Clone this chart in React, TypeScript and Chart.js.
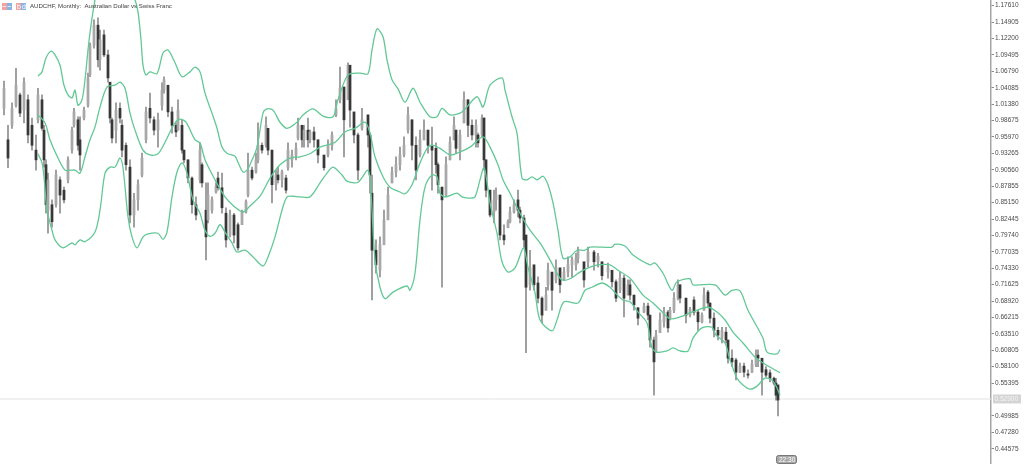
import React, { useEffect, useRef } from "react";
import { Chart, registerables } from "chart.js";

Chart.register(...registerables);

const titleText = "AUDCHF, Monthly:  Australian Dollar vs Swiss Franc";
const timeLabel = "22:30";
const priceLabel = "0.52900";
const currentPrice = 0.5278;
const monthSpan = [0, 495.5];
const priceSpan = [0.4206, 1.1855];

const priceTicks = [
  1.1761, 1.14905, 1.122, 1.09495, 1.0679, 1.04085, 1.0138, 0.98675, 0.9597, 0.93265, 0.9056, 0.87855, 0.8515, 0.82445,
  0.7974, 0.77035, 0.7433, 0.71625, 0.6892, 0.66215, 0.6351, 0.60805, 0.581, 0.55395, 0.49985, 0.4728, 0.44575,
];

const months = [
  2, 4, 6, 8, 10, 12, 14, 16, 18, 19,
  21, 22, 23, 24, 26, 28, 30, 32, 34, 36,
  37, 39, 40, 42, 44, 45, 47, 49, 50, 52,
  54, 55, 56, 58, 60, 61, 63, 65, 67, 69,
  71, 73, 75, 77, 79, 81, 82, 84, 86, 88,
  89, 91, 92, 94, 96, 98, 100, 101, 103, 104,
  106, 108, 109, 111, 113, 115, 117, 119, 121, 123,
  124, 126, 128, 129, 131, 133, 134, 136, 138, 139,
  141, 143, 144, 146, 148, 149, 151, 152, 154, 155,
  157, 159, 162, 164, 166, 168, 170, 172, 174, 175,
  177, 179, 181, 184, 185, 186, 188, 190, 192, 194,
  196, 198, 200, 202, 204, 206, 208, 210, 212, 214,
  216, 218, 219, 221, 223, 225, 227, 228, 230, 232,
  234, 236, 238, 239, 241, 242, 243, 245, 247, 248,
  250, 252, 254, 255, 257, 259, 260, 262, 263, 265,
  267, 269, 271, 273, 274, 276, 278, 280, 282, 284,
  286, 288, 289, 292, 294, 297, 299, 301, 304, 306,
  308, 310, 312, 314, 315, 317, 319, 322, 324, 325,
  327, 328, 330, 332, 334, 335, 337, 339, 340, 343,
  345, 347, 349, 351, 352, 354, 355, 357, 359, 361,
  363, 364, 366, 368, 370, 372, 374, 376, 378, 379,
  381, 383, 385, 387, 388, 389,
];

const highs = [
  1.052, 0.979, 1.016, 1.073, 1.032, 1.057, 1.029, 0.991, 0.963, 1.04,
  1.029, 0.979, 0.922, 0.9, 0.856, 0.905, 0.894, 0.877, 0.927, 0.976,
  1.007, 0.993, 0.993, 1.009, 1.065, 1.115, 1.153, 1.156, 1.136, 1.136,
  1.103, 1.049, 0.991, 1.016, 1.016, 0.988, 0.95, 0.922, 0.867, 0.889,
  0.933, 1.009, 1.032, 0.993, 0.999, 1.049, 1.059, 1.037, 1.009, 0.983,
  1.021, 0.988, 0.938, 0.922, 0.894, 0.861, 0.95, 0.917, 0.884, 0.884,
  0.861, 0.884, 0.902, 0.9, 0.843, 0.839, 0.834, 0.818, 0.839, 0.856,
  0.933, 0.91, 0.933, 0.983, 0.95, 0.993, 0.974, 0.938, 0.905, 0.91,
  0.905, 0.897, 0.95, 0.938, 0.95, 0.991, 0.979, 0.979, 0.991, 0.971,
  0.976, 0.955, 0.927, 0.955, 0.968, 1.021, 1.075, 1.042, 1.082, 1.078,
  0.993, 0.966, 1.007, 0.996, 0.966, 0.897, 0.79, 0.795, 0.839, 0.877,
  0.91, 0.927, 0.943, 0.96, 1.009, 0.988, 0.96, 0.971, 0.988, 0.971,
  0.976, 0.95, 0.917, 0.877, 0.927, 0.96, 0.993, 0.971, 0.971, 1.034,
  1.021, 0.988, 0.988, 0.966, 0.996, 0.991, 0.922, 0.872, 0.872, 0.876,
  0.864, 0.815, 0.823, 0.844, 0.856, 0.872, 0.844, 0.831, 0.798, 0.773,
  0.745, 0.729, 0.696, 0.712, 0.752, 0.729, 0.757, 0.74, 0.745, 0.762,
  0.762, 0.768, 0.778, 0.752, 0.778, 0.773, 0.768, 0.752, 0.752, 0.74,
  0.724, 0.737, 0.732, 0.724, 0.724, 0.699, 0.679, 0.686, 0.686, 0.666,
  0.63, 0.641, 0.67, 0.679, 0.674, 0.679, 0.703, 0.724, 0.716, 0.694,
  0.679, 0.696, 0.674, 0.67, 0.711, 0.707, 0.686, 0.67, 0.646, 0.646,
  0.646, 0.62, 0.609, 0.595, 0.587, 0.587, 0.576, 0.592, 0.609, 0.609,
  0.592, 0.581, 0.576, 0.564, 0.562, 0.543,
];

const lows = [
  0.996, 0.909, 0.974, 1.009, 0.993, 0.983, 0.95, 0.938, 0.905, 0.983,
  0.971, 0.91, 0.834, 0.801, 0.811, 0.844, 0.834, 0.851, 0.884, 0.933,
  0.976, 0.938, 0.905, 0.988, 1.009, 1.059, 1.106, 1.075, 1.07, 1.092,
  1.05, 0.983, 0.95, 0.95, 0.983, 0.927, 0.905, 0.818, 0.811, 0.839,
  0.894, 0.95, 0.983, 0.963, 0.943, 1.004, 1.032, 0.993, 0.966, 0.96,
  0.971, 0.933, 0.917, 0.884, 0.834, 0.823, 0.884, 0.877, 0.757, 0.818,
  0.834, 0.867, 0.872, 0.834, 0.778, 0.795, 0.785, 0.773, 0.815, 0.834,
  0.861, 0.889, 0.9, 0.917, 0.933, 0.943, 0.93, 0.851, 0.872, 0.884,
  0.877, 0.867, 0.905, 0.91, 0.922, 0.955, 0.943, 0.943, 0.943, 0.95,
  0.943, 0.917, 0.905, 0.927, 0.938, 0.993, 1.016, 0.927, 1.021, 0.976,
  0.95, 0.889, 0.971, 0.943, 0.867, 0.691, 0.735, 0.729, 0.785, 0.828,
  0.884, 0.894, 0.905, 0.927, 0.966, 0.922, 0.889, 0.927, 0.955, 0.933,
  0.872, 0.9, 0.867, 0.712, 0.861, 0.922, 0.955, 0.933, 0.922, 0.983,
  0.96, 0.955, 0.943, 0.943, 0.96, 0.905, 0.861, 0.828, 0.818, 0.839,
  0.79, 0.782, 0.811, 0.818, 0.834, 0.828, 0.818, 0.778, 0.604, 0.707,
  0.707, 0.686, 0.653, 0.674, 0.707, 0.674, 0.719, 0.703, 0.724, 0.729,
  0.729, 0.74, 0.752, 0.712, 0.745, 0.74, 0.745, 0.724, 0.727, 0.712,
  0.688, 0.703, 0.663, 0.703, 0.691, 0.674, 0.65, 0.67, 0.658, 0.613,
  0.534, 0.604, 0.637, 0.646, 0.638, 0.658, 0.67, 0.691, 0.686, 0.653,
  0.663, 0.666, 0.641, 0.653, 0.674, 0.679, 0.653, 0.63, 0.625, 0.62,
  0.62, 0.587, 0.581, 0.559, 0.571, 0.564, 0.562, 0.571, 0.581, 0.581,
  0.534, 0.564, 0.556, 0.551, 0.526, 0.5,
];

const opens = [
  1.007, 0.955, 0.979, 1.012, 1.029, 1.004, 1.021, 0.979, 0.938, 0.988,
  1.021, 0.971, 0.914, 0.839, 0.848, 0.848, 0.889, 0.872, 0.889, 0.938,
  0.979, 0.988, 0.955, 0.991, 1.012, 1.062, 1.111, 1.144, 1.087, 1.128,
  1.095, 1.05, 0.988, 0.971, 1.007, 0.979, 0.946, 0.91, 0.831, 0.856,
  0.897, 0.955, 1.007, 0.988, 0.971, 1.012, 1.037, 1.045, 1.001, 0.979,
  0.971, 0.979, 0.938, 0.922, 0.892, 0.848, 0.889, 0.914, 0.839, 0.823,
  0.839, 0.869, 0.892, 0.876, 0.834, 0.798, 0.831, 0.815, 0.815, 0.836,
  0.864, 0.905, 0.902, 0.922, 0.946, 0.946, 0.974, 0.938, 0.881, 0.897,
  0.889, 0.892, 0.909, 0.922, 0.93, 0.958, 0.979, 0.955, 0.971, 0.955,
  0.968, 0.955, 0.93, 0.93, 0.946, 0.996, 1.021, 1.042, 1.021, 1.078,
  1.001, 0.963, 0.974, 0.996, 0.963, 0.867, 0.773, 0.74, 0.782, 0.823,
  0.884, 0.902, 0.914, 0.93, 0.971, 0.988, 0.946, 0.93, 0.955, 0.971,
  0.946, 0.941, 0.914, 0.877, 0.864, 0.922, 0.955, 0.971, 0.938, 0.983,
  1.021, 0.979, 0.963, 0.963, 0.963, 0.991, 0.922, 0.872, 0.836, 0.856,
  0.864, 0.798, 0.81, 0.82, 0.836, 0.856, 0.839, 0.826, 0.798, 0.716,
  0.749, 0.719, 0.694, 0.674, 0.716, 0.737, 0.724, 0.744, 0.724, 0.737,
  0.749, 0.749, 0.76, 0.754, 0.754, 0.77, 0.754, 0.754, 0.737, 0.74,
  0.721, 0.707, 0.727, 0.699, 0.716, 0.699, 0.678, 0.671, 0.681, 0.666,
  0.625, 0.605, 0.637, 0.655, 0.671, 0.661, 0.674, 0.694, 0.716, 0.694,
  0.666, 0.691, 0.671, 0.655, 0.674, 0.704, 0.686, 0.661, 0.641, 0.628,
  0.638, 0.625, 0.595, 0.592, 0.572, 0.582, 0.569, 0.572, 0.585, 0.6,
  0.595, 0.576, 0.571, 0.562, 0.554, 0.551,
];

const closes = [
  1.04, 0.925, 1.007, 1.045, 0.999, 1.05, 0.963, 0.946, 0.922, 1.029,
  0.974, 0.922, 0.848, 0.889, 0.82, 0.897, 0.864, 0.856, 0.922, 0.971,
  1.001, 0.946, 0.93, 1.004, 1.057, 1.111, 1.144, 1.087, 1.12, 1.095,
  1.057, 0.991, 0.958, 1.004, 0.991, 0.938, 0.914, 0.831, 0.856, 0.881,
  0.925, 1.001, 0.991, 0.971, 0.988, 1.037, 1.054, 1.001, 0.979, 0.968,
  1.004, 0.938, 0.922, 0.892, 0.848, 0.831, 0.938, 0.884, 0.795, 0.864,
  0.856, 0.879, 0.876, 0.843, 0.79, 0.831, 0.798, 0.777, 0.836, 0.853,
  0.905, 0.892, 0.922, 0.946, 0.938, 0.979, 0.938, 0.881, 0.897, 0.889,
  0.902, 0.872, 0.938, 0.93, 0.941, 0.979, 0.955, 0.971, 0.955, 0.968,
  0.955, 0.93, 0.909, 0.946, 0.963, 1.007, 1.04, 0.988, 1.078, 1.004,
  0.963, 0.905, 0.988, 0.963, 0.897, 0.773, 0.749, 0.782, 0.823, 0.864,
  0.902, 0.914, 0.93, 0.946, 0.996, 0.946, 0.905, 0.955, 0.971, 0.946,
  0.938, 0.914, 0.881, 0.856, 0.914, 0.951, 0.979, 0.941, 0.963, 1.021,
  0.979, 0.963, 0.979, 0.95, 0.991, 0.922, 0.872, 0.831, 0.856, 0.864,
  0.798, 0.79, 0.82, 0.836, 0.848, 0.839, 0.826, 0.79, 0.712, 0.744,
  0.716, 0.694, 0.666, 0.699, 0.74, 0.707, 0.744, 0.716, 0.737, 0.749,
  0.757, 0.76, 0.773, 0.724, 0.77, 0.754, 0.763, 0.731, 0.744, 0.721,
  0.694, 0.727, 0.694, 0.716, 0.699, 0.683, 0.661, 0.681, 0.666, 0.625,
  0.589, 0.633, 0.658, 0.671, 0.645, 0.674, 0.694, 0.716, 0.694, 0.666,
  0.676, 0.671, 0.655, 0.666, 0.699, 0.686, 0.661, 0.641, 0.633, 0.641,
  0.625, 0.595, 0.589, 0.572, 0.582, 0.572, 0.567, 0.585, 0.6, 0.595,
  0.572, 0.567, 0.562, 0.554, 0.534, 0.526,
];

const upperMonths = [
  19, 21, 23, 25.5, 27.5, 30, 32, 34, 36, 37.5, 39, 41, 42.5, 44, 45.5, 47.5, 50, 55, 60, 64, 67.5, 69, 70.5, 71.5, 73, 75,
  78.5, 81.5, 84, 87.5, 91, 95, 97.5, 100, 102.5, 106, 108.5, 111, 113.5, 117.5, 119, 121.5, 123.5, 125, 128.5, 131.5, 133.5,
  136.5, 140, 143.5, 148.5, 151.5, 156.5, 161.5, 166.5, 169, 174, 180, 184, 186, 188.5, 191.5, 193.5, 196, 199, 202.5, 206.5,
  210, 215, 218.5, 221, 225, 231, 238.5, 241.5, 245, 251, 252.5, 256, 258.5, 261, 263.5, 266, 268.5, 271.5, 274, 276.5, 279,
  281.5, 285, 288.5, 292.5, 295, 301.5, 306, 307.5, 312.5, 316.5, 325, 327.5, 331.5, 336, 338.5, 345, 346.5, 357.5, 362.5,
  366, 370, 374, 381.5, 383.5, 388.5, 390,
];
const upperBand = [
  1.06, 1.067, 1.09, 1.101, 1.095, 1.078, 1.045, 1.029, 1.024, 1.037, 1.012, 1.021, 1.054, 1.103, 1.144, 1.186, 1.227, 1.251,
  1.243, 1.21, 1.186, 1.166, 1.12, 1.078, 1.062, 1.067, 1.064, 1.098, 1.103, 1.082, 1.059, 1.067, 1.075, 1.067, 1.032, 0.999,
  0.974, 0.943, 0.933, 0.928, 0.918, 0.902, 0.905, 0.914, 0.943, 0.999, 1.006, 1.004, 0.984, 0.974, 0.984, 0.996, 1.006, 0.994,
  0.993, 1.021, 1.062, 1.065, 1.064, 1.103, 1.138, 1.125, 1.087, 1.054, 1.039, 1.017, 1.04, 1.017, 0.993, 0.993, 1.007, 0.996,
  1.001, 1.026, 1.009, 1.045, 1.057, 1.037, 0.993, 0.966, 0.892, 0.889, 0.894, 0.889, 0.895, 0.881, 0.851, 0.806, 0.76, 0.762,
  0.773, 0.773, 0.778, 0.778, 0.778, 0.783, 0.78, 0.765, 0.749, 0.752, 0.735, 0.707, 0.721, 0.726, 0.716, 0.716, 0.699, 0.707,
  0.706, 0.674, 0.628, 0.605, 0.602, 0.609,
];

const middleMonths = [
  19, 22.5, 25, 29, 32.5, 35, 37.5, 40, 42.5, 45, 47.5, 50, 53.5, 57.5, 60, 62.5, 65, 67.5, 71.5, 75, 79, 82.5, 85, 87.5, 90,
  93, 97.5, 100, 102.5, 107.5, 112.5, 117.5, 121.5, 125, 130, 135, 140, 145, 150, 155, 160, 167.5, 172.5, 177.5, 182.5, 185,
  187.5, 191.5, 195, 200, 202.5, 206, 210, 214, 216.5, 220, 225, 230, 235, 241.5, 245, 249, 251.5, 255, 260, 265, 270, 275,
  278.5, 281, 285, 290, 295, 299, 305, 309, 315, 321.5, 326.5, 331.5, 335, 340, 346, 354, 358.5, 362.5, 366.5, 371.5, 377.5,
  381.5, 390,
];
const middleBand = [
  0.996, 0.983, 0.955, 0.925, 0.905, 0.905, 0.905, 0.9, 0.927, 0.955, 0.976, 1.009, 1.042, 1.045, 1.05, 1.04, 0.999, 0.971,
  0.938, 0.93, 0.932, 0.951, 0.968, 0.983, 0.989, 0.984, 0.955, 0.95, 0.922, 0.889, 0.861, 0.844, 0.836, 0.846, 0.862, 0.892,
  0.914, 0.925, 0.927, 0.932, 0.943, 0.951, 0.968, 0.974, 0.984, 0.966, 0.927, 0.894, 0.877, 0.869, 0.866, 0.881, 0.917, 0.943,
  0.946, 0.941, 0.93, 0.935, 0.943, 0.96, 0.943, 0.914, 0.889, 0.867, 0.834, 0.806, 0.785, 0.757, 0.735, 0.724, 0.726, 0.737,
  0.745, 0.749, 0.749, 0.74, 0.727, 0.699, 0.686, 0.67, 0.66, 0.663, 0.671, 0.679, 0.671, 0.658, 0.638, 0.62, 0.597, 0.587, 0.571,
];

const lowerMonths = [
  19, 21, 22, 23.5, 26, 27.5, 31.5, 36, 37.5, 40, 42.5, 47.5, 50, 52.5, 55, 57.5, 60, 61.5, 64, 66, 68.5, 71.5, 74, 79, 81.5,
  83.5, 86, 88.5, 91, 93.5, 96.5, 100, 102.5, 105, 107.5, 110, 112.5, 116, 118.5, 122.5, 126.5, 131.5, 134, 137.5, 141, 143.5,
  146.5, 150, 155, 160, 163.5, 166.5, 171, 173.5, 179, 184, 185.5, 187.5, 190, 192.5, 196.5, 203.5, 205, 207.5, 210, 212.5, 216,
  218.5, 220, 222.5, 228.5, 231, 235, 237.5, 240, 242, 243.5, 245, 248.5, 251, 254, 257.5, 261, 262, 264, 267.5, 270, 276, 278.5,
  282, 289, 292.5, 296, 301, 305, 307.5, 311.5, 315, 319, 323.5, 326, 328.5, 333.5, 336.5, 340, 344, 346.5, 351, 356, 358, 362.5,
  365, 368.5, 371.5, 375, 378.5, 382.5, 386, 388.5, 390,
];
const lowerBand = [
  0.932, 0.917, 0.894, 0.839, 0.806, 0.79, 0.777, 0.785, 0.782, 0.79, 0.787, 0.803, 0.839, 0.9, 0.91, 0.91, 0.925, 0.909, 0.828,
  0.795, 0.777, 0.795, 0.8, 0.801, 0.791, 0.803, 0.861, 0.902, 0.917, 0.9, 0.856, 0.834, 0.806, 0.796, 0.801, 0.815, 0.803, 0.785,
  0.77, 0.773, 0.762, 0.747, 0.762, 0.795, 0.839, 0.861, 0.862, 0.861, 0.861, 0.884, 0.9, 0.91, 0.897, 0.887, 0.885, 0.905, 0.867,
  0.757, 0.712, 0.693, 0.704, 0.714, 0.707, 0.735, 0.823, 0.877, 0.897, 0.894, 0.867, 0.861, 0.867, 0.861, 0.859, 0.861, 0.889,
  0.91, 0.885, 0.851, 0.801, 0.754, 0.737, 0.744, 0.773, 0.777, 0.745, 0.703, 0.658, 0.64, 0.658, 0.688, 0.686, 0.707, 0.712, 0.719,
  0.712, 0.703, 0.691, 0.688, 0.671, 0.653, 0.612, 0.605, 0.607, 0.612, 0.607, 0.607, 0.628, 0.645, 0.646, 0.633, 0.62, 0.592,
  0.562, 0.551, 0.544, 0.549, 0.562, 0.559, 0.546, 0.534,
];

const bandColor = "#62c896";
const upColor = "#a8a8a8";
const downColor = "#383838";
const wickColor = "#9a9a9a";
const uiFont = '"Liberation Sans", Arial, sans-serif';

const pair = (xs: number[], ys: number[]) => xs.map((x, i) => ({ x, y: ys[i] }));

const overlayPlugin = {
  id: "terminalOverlay",
  afterDraw(chart: any) {
    const { ctx } = chart;
    const yScale = chart.scales.y;
    ctx.save();
    const icon = (x: number) => {
      ctx.fillStyle = "#f2a3a0";
      ctx.fillRect(x, 3, 5, 7);
      ctx.fillStyle = "#86b4e8";
      ctx.fillRect(x + 5, 3, 5, 7);
    };
    icon(2);
    icon(16);
    ctx.strokeStyle = "#ffffff";
    ctx.lineWidth = 0.7;
    [2, 7].forEach((x) => {
      ctx.beginPath();
      ctx.moveTo(x + 0.5, 6.5);
      ctx.lineTo(x + 4, 6.5);
      ctx.stroke();
    });
    ctx.font = `7px ${uiFont}`;
    ctx.textBaseline = "middle";
    ctx.textAlign = "left";
    ctx.fillStyle = "#ffffff";
    ctx.fillText("b", 17, 7);
    ctx.fillText("d", 22, 7);
    ctx.fillStyle = "#3d3d3d";
    ctx.font = `6.1px ${uiFont}`;
    ctx.fillText(titleText, 30, 6.5);
    const py = yScale.getPixelForValue(currentPrice);
    ctx.fillStyle = "#d4d4d4";
    ctx.fillRect(993, py - 4.5, 28, 9);
    ctx.fillStyle = "#f4f4f4";
    ctx.font = `6.5px ${uiFont}`;
    ctx.fillText(priceLabel, 994.5, py + 0.5);
    ctx.fillStyle = "#a8a8a8";
    ctx.strokeStyle = "#777777";
    ctx.lineWidth = 1;
    ctx.beginPath();
    ctx.roundRect(776.5, 455.5, 20, 8, 2);
    ctx.fill();
    ctx.stroke();
    ctx.fillStyle = "#ffffff";
    ctx.fillText(timeLabel, 779, 460);
    ctx.restore();
  },
};

export default function App() {
  const ref = useRef<HTMLCanvasElement | null>(null);
  useEffect(() => {
    if (!ref.current) return;
    const bandStyle = {
      type: "line" as const,
      borderColor: bandColor,
      borderWidth: 1.3,
      pointRadius: 0,
      tension: 0.3,
      order: 0,
      fill: false,
    };
    const chart = new Chart(ref.current, {
      type: "bar",
      data: {
        datasets: [
          {
            type: "line",
            label: "Current price",
            data: pair(monthSpan, [currentPrice, currentPrice]),
            borderColor: "#e2e2e2",
            borderWidth: 1,
            pointRadius: 0,
            order: 5,
          },
          { ...bandStyle, label: "Upper band", data: pair(upperMonths, upperBand) },
          { ...bandStyle, label: "Middle band", data: pair(middleMonths, middleBand) },
          { ...bandStyle, label: "Lower band", data: pair(lowerMonths, lowerBand) },
          {
            type: "bar",
            label: "Body",
            data: months.map((x, i) => ({ x, y: [opens[i], closes[i]] })),
            backgroundColor: months.map((_, i) => (closes[i] < opens[i] ? downColor : upColor)),
            barThickness: 2.1,
            grouped: false,
            minBarLength: 1,
            order: 1,
          },
          {
            type: "bar",
            label: "Wick",
            data: months.map((x, i) => ({ x, y: [lows[i], highs[i]] })),
            backgroundColor: wickColor,
            barThickness: 1.2,
            grouped: false,
            order: 2,
          },
        ] as any,
      },
      options: {
        animation: false,
        responsive: false,
        layout: { padding: 0 },
        plugins: { legend: { display: false }, tooltip: { enabled: false } },
        scales: {
          x: { type: "linear", display: false, min: monthSpan[0], max: monthSpan[1], offset: false },
          y: {
            position: "right",
            min: priceSpan[0],
            max: priceSpan[1],
            afterBuildTicks(scale: any) {
              scale.ticks = priceTicks.map((value) => ({ value }));
            },
            afterFit(scale: any) {
              scale.width = 33;
              scale.paddingTop = 0;
              scale.paddingBottom = 0;
            },
            border: { color: "#a6a6a6", width: 1.5 },
            grid: { drawOnChartArea: false, drawTicks: true, tickLength: 3, tickColor: "#8a8a8a" },
            ticks: {
              autoSkip: false,
              maxRotation: 0,
              padding: 1,
              color: "#4a4a4a",
              font: { family: uiFont, size: 6.5 },
              callback: (v: any) => Number(v).toFixed(5),
            },
          },
        },
      } as any,
      plugins: [overlayPlugin],
    });
    return () => chart.destroy();
  }, []);
  return (
    <div style={{ position: "fixed", left: 0, top: 0, width: 1024, height: 464, background: "#ffffff" }}>
      <canvas ref={ref} width={1024} height={464} style={{ display: "block" }} />
    </div>
  );
}
